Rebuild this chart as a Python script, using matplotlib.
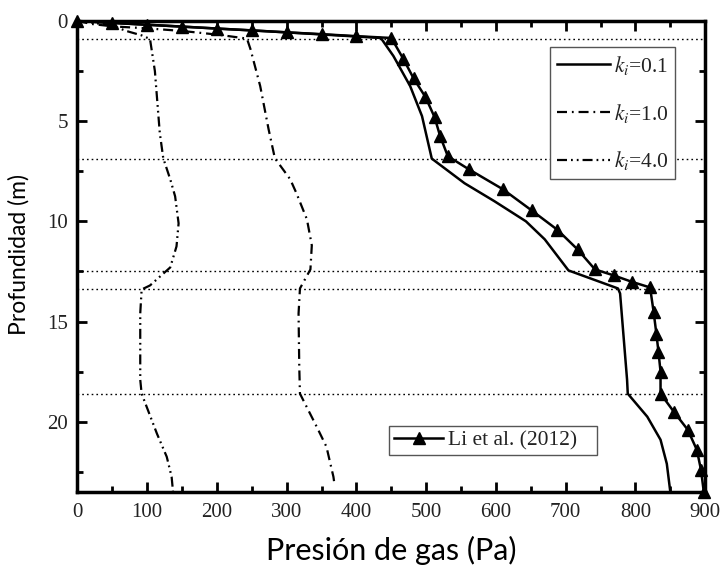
import numpy as np
import matplotlib
matplotlib.use('Agg')
import matplotlib.pyplot as plt
from matplotlib.lines import Line2D
from matplotlib.ticker import MultipleLocator

# pressure (Pa) vs depth (m)
p_k01 = [0, 100, 200, 300, 435, 453, 477, 494, 508, 555, 598, 643, 670, 704,
         775, 778, 788, 789, 817, 836, 845, 850]
d_k01 = [0, 0.19, 0.38, 0.57, 0.85, 1.75, 3.25, 4.75, 6.87, 8.1, 9.0, 10.0, 10.9, 12.45,
         13.35, 13.6, 17.9, 18.6, 19.75, 20.9, 22.1, 23.5]

p_k10 = [0, 20, 50, 100, 150, 200, 243, 248, 262, 274, 283, 305, 314, 329, 336, 334,
         319, 317, 318, 319, 343, 357, 367, 368]
d_k10 = [0, 0.15, 0.27, 0.37, 0.5, 0.68, 0.88, 1.4, 3.25, 5.4, 6.85, 7.9, 8.6, 9.9, 11.2, 12.4,
         13.35, 14.6, 17.25, 18.6, 20.25, 21.25, 22.75, 23.0]

p_k40 = [0, 18, 47, 70, 92, 104, 111, 118, 123, 133, 140, 145, 142, 133, 104, 92,
         90, 90, 92, 114, 128, 135, 137]
d_k40 = [0, 0.08, 0.2, 0.5, 0.72, 0.9, 2.5, 5.58, 6.85, 7.9, 8.75, 10.1, 11.25, 12.3, 13.2, 13.4,
         14.6, 17.9, 18.6, 20.6, 21.75, 22.75, 23.5]

p_li = [0, 50, 100, 150, 200, 250, 300, 350, 400, 450, 467, 482, 499, 512, 520, 531,
        561, 610, 651, 688, 717, 742, 769, 795, 821, 826, 830, 833, 836, 836,
        855, 875, 888, 894, 898]
d_li = [0, 0.1, 0.19, 0.28, 0.38, 0.47, 0.57, 0.66, 0.76, 0.85, 1.88, 2.87, 3.8, 4.8, 5.75, 6.75,
        7.4, 8.4, 9.45, 10.42, 11.4, 12.4, 12.7, 13.02, 13.3, 14.5, 15.6, 16.5, 17.5, 18.6,
        19.5, 20.4, 21.4, 22.4, 23.5]

layers = [0.9, 6.9, 12.5, 13.4, 18.6]

plt.rcParams['font.family'] = ['Liberation Serif', 'DejaVu Serif']
plt.rcParams['mathtext.fontset'] = 'stix'

dash_k10 = (4.5, 2.2, 0.8, 2.2)
dash_k40 = (4.5, 1.8, 0.8, 1.8, 0.8, 1.8)

fig = plt.figure(figsize=(7.24, 5.66), dpi=100)
ax = fig.add_axes([0.107, 0.131, 0.867, 0.832])

for d in layers:
    ax.axhline(d, color='black', lw=1.0, linestyle=(0, (1.2, 2.2)), zorder=1)

ax.plot(p_k01, d_k01, color='black', lw=1.8, zorder=3)
ax.plot(p_k10, d_k10, color='black', lw=1.6, dashes=dash_k10, zorder=3)
ax.plot(p_k40, d_k40, color='black', lw=1.6, dashes=dash_k40, zorder=3)
ax.plot(p_li, d_li, color='black', lw=1.8, marker='^', ms=9, zorder=4, clip_on=False)

ax.set_xlim(0, 900)
ax.set_ylim(23.5, 0)
ax.xaxis.set_major_locator(MultipleLocator(100))
ax.xaxis.set_minor_locator(MultipleLocator(50))
ax.yaxis.set_major_locator(MultipleLocator(5))
ax.yaxis.set_minor_locator(MultipleLocator(2.5))
ax.tick_params(which='both', direction='in', top=True, right=True, width=2,
               labelsize=15, labelcolor='#222222')
ax.tick_params(which='major', length=7)
ax.tick_params(which='minor', length=4)
ax.tick_params(axis='x', pad=8)
ax.tick_params(axis='y', pad=7)
for s in ax.spines.values():
    s.set_linewidth(2.5)

ax.set_xlabel('Presión de gas (Pa)', family='Lato', fontsize=22, labelpad=10)
ax.set_ylabel('Profundidad (m)', family='Lato', fontsize=16.5)
ax.yaxis.set_label_coords(-0.077, 0.505)

h1 = [Line2D([], [], color='black', lw=1.8),
      Line2D([], [], color='black', lw=1.6, dashes=dash_k10),
      Line2D([], [], color='black', lw=1.6, dashes=dash_k40)]
leg1 = ax.legend(h1, [r'$k_i$=0.1', r'$k_i$=1.0', r'$k_i$=4.0'],
                 loc='upper left', bbox_to_anchor=(0.753, 0.944), borderaxespad=0,
                 fontsize=15.5, frameon=True, fancybox=False, edgecolor='#555555',
                 framealpha=1, handlelength=2.5, handletextpad=0.15, labelspacing=1.15,
                 borderpad=0.3, labelcolor='#222222')
leg1.get_frame().set_linewidth(1.0)
ax.add_artist(leg1)

h2 = [Line2D([], [], color='black', lw=1.8, marker='^', ms=9)]
leg2 = ax.legend(h2, ['Li et al. (2012)   '], loc='upper left',
                 bbox_to_anchor=(0.497, 0.14), borderaxespad=0,
                 fontsize=15.5, frameon=True, fancybox=False, edgecolor='#555555',
                 framealpha=1, handlelength=2.3, handletextpad=0.2, borderpad=0.2,
                 labelcolor='#222222')
leg2.get_frame().set_linewidth(1.0)

fig.savefig('out.png', dpi=100)
